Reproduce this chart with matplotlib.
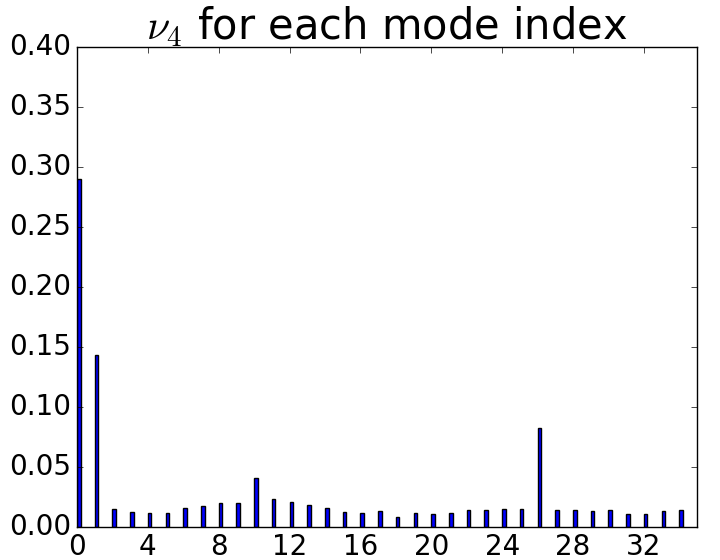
import numpy as np
import matplotlib
matplotlib.use('Agg')
import matplotlib.pyplot as plt

plt.style.use('classic')

# nu_4 value for each mode index
mode_index = np.arange(35)
nu4 = [0.290, 0.143, 0.0151, 0.0126, 0.0120, 0.0120, 0.0159, 0.0178, 0.0201, 0.0201,
       0.0410, 0.0234, 0.0209, 0.0187, 0.0159, 0.0126, 0.0117, 0.0134, 0.0084, 0.0117,
       0.0109, 0.0120, 0.0142, 0.0142, 0.0151, 0.0151, 0.0821, 0.0142, 0.0142, 0.0134,
       0.0142, 0.0109, 0.0109, 0.0134, 0.0142]
xticks = [0, 4, 8, 12, 16, 20, 24, 28, 32]

fig = plt.figure(figsize=(7.2, 5.6), dpi=100)
ax = fig.add_axes([0.107, 0.059, 0.861, 0.857])
ax.bar(mode_index, nu4, width=0.2, align='edge', color='b', edgecolor='k')
ax.set_xlim(0, 35)
ax.set_ylim(0, 0.4)
ax.set_xticks(xticks)
ax.set_yticks(np.arange(0, 0.41, 0.05))
ax.tick_params(labelsize=20)
ax.set_title(r'$\nu_4$ for each mode index', fontsize=30)

fig.savefig('out.png', dpi=100)
